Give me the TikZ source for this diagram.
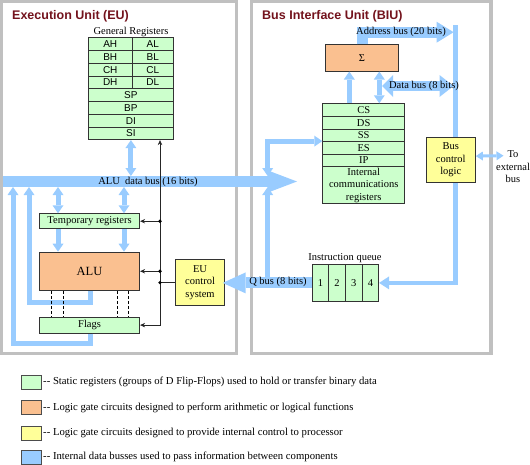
\documentclass[tikz,border=0pt]{standalone}
\usepackage{fontspec}
\setmainfont{Liberation Serif}
\newfontfamily\arialf{Liberation Sans}
\usetikzlibrary{arrows.meta}
\definecolor{regG}{RGB}{204,255,204}
\definecolor{aluO}{RGB}{250,192,144}
\definecolor{ctlY}{RGB}{255,255,153}
\definecolor{busB}{RGB}{153,204,255}
\definecolor{panelG}{RGB}{192,192,192}
\definecolor{titleR}{RGB}{115,18,28}
\newcommand\lbltxt{\fontsize{10.5}{12.5}\selectfont}
\newcommand\legdash{{-}{-}}
\begin{document}
\begin{tikzpicture}[x=1pt,y=-1pt,
 >={Triangle[width=11pt,length=8pt,line width=0pt]},
 panel/.style={draw=panelG, line width=3.4pt},
 ttl/.style={font=\arialf\bfseries\fontsize{12.5}{14}\selectfont, text=titleR, inner sep=0pt},
 lbl/.style={font=\lbltxt, inner sep=0pt},
 boxbase/.style={draw=black!80, line width=0.8pt, inner sep=0pt, anchor=north west, align=center, font=\lbltxt},
 rg/.style={boxbase, fill=regG},
 rgs/.style={rg, font=\arialf\fontsize{10}{12}\selectfont},
 og/.style={boxbase, fill=aluO},
 yl/.style={boxbase, fill=ctlY},
 bar/.style={draw=busB, line width=5pt},
 ctl/.style={draw=black!85, line width=0.9pt},
 dsh/.style={draw=black, line width=0.8pt, dash pattern=on 3pt off 2pt},
 dot/.style={circle, fill=black, inner sep=0pt, minimum size=3.6pt},
 legsq/.style={draw=black!70, line width=0.8pt, minimum width=20pt, minimum height=14pt, inner sep=0pt, anchor=west},
 legtx/.style={font=\fontsize{10.7}{12.5}\selectfont, inner sep=0pt, anchor=west}]
\useasboundingbox (0,0) rectangle (530,464);
% panels
\draw[panel] (1.7,1.7) rectangle (236.7,353.3);
\draw[panel] (251.7,1.7) rectangle (491,353.3);
\node[ttl, anchor=base west] (eut) at (12,19.5) {Execution Unit (EU)};
\node[ttl, anchor=base west] (biut) at (262,19.5) {Bus Interface Unit (BIU)};
% helper coordinates
\coordinate (busTop) at (0,176);
\coordinate (busBot) at (0,187);
\coordinate (c58) at (58,0);
\coordinate (c124) at (124,0);
\coordinate (ctlx) at (160,0);
\coordinate (qx) at (267.7,0);
\coordinate (sx1) at (349.3,0);
\coordinate (sx2) at (379.3,0);
\coordinate (d1) at (51.7,0);
\coordinate (d2) at (63.3,0);
\coordinate (d3) at (117.5,0);
\coordinate (d4) at (128.3,0);
\coordinate (loopA) at (90.5,302);
\coordinate (loopB) at (29,302);
\coordinate (loopC) at (90.5,343.5);
\coordinate (loopD) at (13,343.5);
\coordinate (qtop) at (267.7,277);
\coordinate (adrEnd) at (453.6,32.2);
\coordinate (adTop) at (455.7,25);
\coordinate (dbL) at (382,86);
\coordinate (dbR) at (453.5,86);
\coordinate (extEnd) at (503.5,155.7);
% general registers
\node[lbl] (grl) at (131,31.5) {General Registers};
\node[rgs, minimum width=43.7pt, minimum height=12.75pt] (ah) at (88,37.3) {AH};
\node[rgs, minimum width=41.3pt, minimum height=12.75pt] (al) at (131.7,37.3) {AL};
\node[rgs, minimum width=43.7pt, minimum height=12.75pt] (bh) at (88,50.05) {BH};
\node[rgs, minimum width=41.3pt, minimum height=12.75pt] (bl) at (131.7,50.05) {BL};
\node[rgs, minimum width=43.7pt, minimum height=12.75pt] (ch) at (88,62.8) {CH};
\node[rgs, minimum width=41.3pt, minimum height=12.75pt] (cl) at (131.7,62.8) {CL};
\node[rgs, minimum width=43.7pt, minimum height=12.75pt] (dh) at (88,75.55) {DH};
\node[rgs, minimum width=41.3pt, minimum height=12.75pt] (dl) at (131.7,75.55) {DL};
\node[rgs, minimum width=85pt, minimum height=12.75pt] (sp) at (88,88.3) {SP};
\node[rgs, minimum width=85pt, minimum height=12.75pt] (bp) at (88,101.05) {BP};
\node[rgs, minimum width=85pt, minimum height=12.75pt] (di) at (88,113.8) {DI};
\node[rgs, minimum width=85pt, minimum height=12.75pt] (si) at (88,126.55) {SI};
% EU boxes
\node[rg, minimum width=100.3pt, minimum height=15pt] (tmp) at (39,213.3) {Temporary registers};
\node[og, minimum width=100.3pt, minimum height=38.3pt, font=\fontsize{12.5}{14}\selectfont] (alu) at (39,251.7) {ALU};
\node[rg, minimum width=100.3pt, minimum height=16pt] (flags) at (39,316.7) {Flags};
\node[yl, minimum width=49.3pt, minimum height=45.7pt] (eu) at (175,259.3) {EU\\control\\system};
% BIU boxes
\node[og, minimum width=73.3pt, minimum height=26.4pt] (sigma) at (325,44.3) {Σ};
\node[rg, minimum width=82pt, minimum height=12.6pt] (cs) at (322.3,103.3) {CS};
\node[rg, minimum width=82pt, minimum height=12.6pt] (ds) at (322.3,115.9) {DS};
\node[rg, minimum width=82pt, minimum height=12.6pt] (ss) at (322.3,128.5) {SS};
\node[rg, minimum width=82pt, minimum height=12.6pt] (es) at (322.3,141.1) {ES};
\node[rg, minimum width=82pt, minimum height=12.6pt] (ip) at (322.3,153.7) {IP};
\node[rg, minimum width=82pt, minimum height=37pt] (icr) at (322.3,166.3) {Internal\\communications\\registers};
\node[yl, minimum width=49.3pt, minimum height=45.6pt] (bcl) at (425.7,136.7) {Bus\\control\\logic};
\node[lbl] (iql) at (345,258) {Instruction queue};
\node[rg, minimum width=16.65pt, minimum height=36.4pt] (iq1) at (311.7,264.3) {1};
\node[rg, minimum width=16.65pt, minimum height=36.4pt] (iq2) at (328.35,264.3) {2};
\node[rg, minimum width=16.65pt, minimum height=36.4pt] (iq3) at (345,264.3) {3};
\node[rg, minimum width=16.65pt, minimum height=36.4pt] (iq4) at (361.65,264.3) {4};
\node[lbl, align=center] (extl) at (513,167) {To\\external\\bus};
% ALU data bus
\draw[busB, line width=11pt, -{Triangle[width=22pt,length=29pt,line width=0pt]}] (3,181.5) coordinate (busL) -- (297,181.5) coordinate (busR);
\node[lbl] (busl) at (148,181.5) {ALU\ \ data bus (16 bits)};
% EU blue connectors
\draw[bar,<->] (si.south) -- (si.south |- busTop);
\draw[bar,<->] (tmp.north -| c58) -- (busBot -| c58);
\draw[bar,<->] (tmp.north -| c124) -- (busBot -| c124);
\draw[bar,->] (tmp.south -| c58) -- (alu.north -| c58);
\draw[bar,->] (tmp.south -| c124) -- (alu.north -| c124);
\draw[bar,->] (alu.south -| loopA) -- (loopA) -- (loopB) -- (loopB |- busBot);
\draw[bar,->] (flags.south -| loopC) -- (loopC) -- (loopD) -- (loopD |- busBot);
% dashed flag lines
\draw[dsh] (alu.south -| d1) -- (flags.north -| d1);
\draw[dsh] (alu.south -| d2) -- (flags.north -| d2);
\draw[dsh] (alu.south -| d3) -- (flags.north -| d3);
\draw[dsh] (alu.south -| d4) -- (flags.north -| d4);
% control lines
\draw[ctl, {Stealth[length=5pt,width=4.5pt]}-{Stealth[length=5pt,width=4.5pt]}] (flags.east) -| (si.south -| ctlx);
\draw[ctl, -{Stealth[length=5pt,width=4.5pt]}] (tmp.east -| ctlx) -- (tmp.east);
\draw[ctl, -{Stealth[length=5pt,width=4.5pt]}] (alu.east -| ctlx) -- (alu.east);
\draw[ctl] (eu.west) -- (eu.west -| ctlx);
\node[dot] (dt1) at (tmp.east -| ctlx) {};
\node[dot] (dt2) at (alu.east -| ctlx) {};
\node[dot] (dt3) at (eu.west -| ctlx) {};
% Q bus
\draw[busB, line width=11pt, -{Triangle[width=21pt,length=23pt,line width=0pt]}, shorten >=-2.4pt] (iq1.west) -- (iq1.west -| eu.east);
\node[lbl] (qbl) at (278,282.3) {Q bus (8 bits)};
\draw[bar,->] (qtop) -- (qtop |- busBot);
\draw[bar,<->] (es.north west) -| (qx |- busTop);
% BIU buses
\draw[bar,->] (cs.north -| sx1) -- (sigma.south -| sx1);
\draw[bar,<->] (cs.north -| sx2) -- (sigma.south -| sx2);
\draw[busB, line width=11pt, -{Triangle[width=21pt,length=17pt,line width=0pt]}] (sigma.north) |- (adrEnd);
\node[lbl] (adl) at (401,32) {Address bus (20 bits)};
\draw[busB, line width=4.5pt] (adTop) -- (adTop |- bcl.north);
\draw[busB, line width=9.5pt, {Triangle[width=22pt,length=11pt,line width=0pt]}-{Triangle[width=22pt,length=14pt,line width=0pt]}] (dbL) -- (dbR);
\node[lbl] (dbl) at (424,85.5) {Data bus (8 bits)};
\draw[busB, line width=4.5pt, -{Triangle[width=13pt,length=10pt,line width=0pt]}] (adTop |- bcl.south) |- (iq4.east);
\draw[busB, line width=3pt, {Triangle[width=9pt,length=7pt,line width=0pt]}-{Triangle[width=9pt,length=7pt,line width=0pt]}] ([yshift=3.8pt]bcl.east) -- (extEnd);
% legend
\node[legsq, fill=regG] (lg1) at (20.7,382) {};
\node[legtx] (lt1) at (43,382) {\legdash\ Static registers (groups of D Flip-Flops) used to hold or transfer binary data};
\node[legsq, fill=aluO] (lg2) at (20.7,407.5) {};
\node[legtx] (lt2) at (43,407.5) {\legdash\ Logic gate circuits designed to perform arithmetic or logical functions};
\node[legsq, fill=ctlY] (lg3) at (20.7,433) {};
\node[legtx] (lt3) at (43,433) {\legdash\ Logic gate circuits designed to provide internal control to processor};
\node[legsq, fill=busB] (lg4) at (20.7,457) {};
\node[legtx] (lt4) at (43,457) {\legdash\ Internal data busses used to pass information between components};
\end{tikzpicture}
\end{document}
